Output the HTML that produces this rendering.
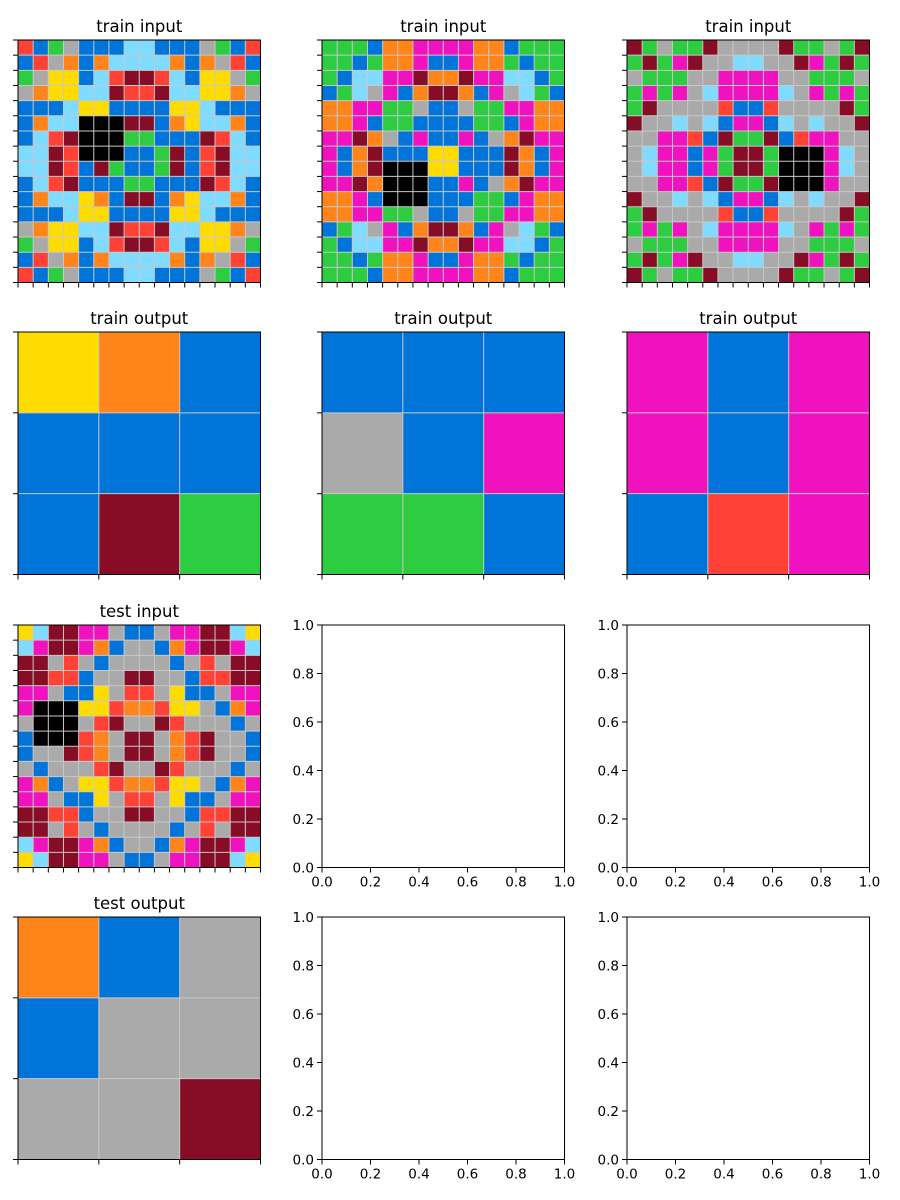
<!DOCTYPE html>
<html><head><meta charset="utf-8"><style>
html,body{margin:0;padding:0;background:#fff;}
svg{display:block;font-family:"DejaVu Sans","Liberation Sans",sans-serif;}
</style></head><body>
<svg id="fig" width="900" height="1200" xmlns="http://www.w3.org/2000/svg"></svg>
<script>
const palette=["#000000","#0074D9","#FF4136","#2ECC40","#FFDC00","#AAAAAA","#F012BE","#FF851B","#7FDBFF","#870C25"];
const train1In=[
"2135111881115312","1257178888717521","3544182992814453","5744889229884475",
"1118441111448111","1788000991748871","1829000331119281","8892000113912988",
"8892193113912988","1829111331119281","1788471991748871","1118441111448111",
"5744889229884475","3544182992814453","1257178888717521","2135111881115312"];
const train2In=[
"3331776666771333","3313776116773133","3188669779668813","1385617997165831",
"7766335115336677","7761331111331677","6697516116157966","6179111441119716",
"6179000441119716","6697000116157966","7761000111331677","7766335115336677",
"1385617997165831","3188669779668813","3313776116773133","3331776666771333"];
const train3In=[
"9353395555933539","3936955885596393","5333556666553335","3636586666856363",
"3955552112555593","9558581661858559","5566219339126655","5866163993000685",
"5866163993000685","5566219339000655","9558581661858559","3955552112555593",
"3636586666856363","5333556666553335","3936955885596393","9353395555933539"];
const testIn=[
"4899665115669984","8699671551769968","9952515555152599","9922155995512299",
"6651145225411566","6000442772445176","5000529559255515","1000275995729551",
"1559275995729551","5155529559255515","6715442772445176","6651145225411566",
"9922155995512299","9952515555152599","8699671551769968","4899665115669984"];
const train1Out=["471","111","193"];
const train2Out=["111","516","331"];
const train3Out=["616","616","126"];
const testOut=["715","155","559"];
const emptyTicks=["0.0","0.2","0.4","0.6","0.8","1.0"];

const NS="http://www.w3.org/2000/svg";
const svg=document.getElementById('fig');
function mk(tag,attrs,parent){const e=document.createElementNS(NS,tag);for(const k in attrs)e.setAttribute(k,attrs[k]);(parent||svg).appendChild(e);return e;}
const colX=[18,322,627], rowY=[40,332,625,917], S=242.5;

function gridPanel(rows,x0,y0,title,name){
  const g=mk('g',{});
  
  
  const n=rows.length, c=S/n;
  rows.forEach((r,i)=>{[...r].forEach((v,j)=>{
    const rc=mk('rect',{x:x0+j*c,y:y0+i*c,width:c+0.3,height:c+0.3,fill:palette[+v]},g);
    
    
  });});
  for(let k=1;k<n;k++){
    mk('line',{x1:x0+k*c,y1:y0,x2:x0+k*c,y2:y0+S,stroke:"#c8c8c8","stroke-width":1},g);
    mk('line',{x1:x0,y1:y0+k*c,x2:x0+S,y2:y0+k*c,stroke:"#c8c8c8","stroke-width":1},g);
  }
  for(let k=0;k<=n;k++){
    mk('line',{x1:x0+k*c,y1:y0+S,x2:x0+k*c,y2:y0+S+5,stroke:"#000","stroke-width":1},g);
    mk('line',{x1:x0-5,y1:y0+k*c,x2:x0,y2:y0+k*c,stroke:"#000","stroke-width":1},g);
  }
  mk('rect',{x:x0,y:y0,width:S,height:S,fill:"none",stroke:"#000","stroke-width":1},g);
  const t=mk('text',{x:x0+S/2,y:y0-8,"text-anchor":"middle","font-size":16.5,fill:"#000"},g);
  t.textContent=title;
  
  
}
function emptyPanel(x0,y0,name){
  const g=mk('g',{});
  
  
  mk('rect',{x:x0,y:y0,width:S,height:S,fill:"#fff",stroke:"#000","stroke-width":1},g);
  emptyTicks.forEach((lab,k)=>{
    const px=x0+k*S/5, py=y0+S-k*S/5;
    mk('line',{x1:px,y1:y0+S,x2:px,y2:y0+S+5,stroke:"#000"},g);
    mk('line',{x1:x0-5,y1:py,x2:x0,y2:py,stroke:"#000"},g);
    const tx=mk('text',{x:px,y:y0+S+19,"text-anchor":"middle","font-size":13.5},g);tx.textContent=lab;
    
    
    const ty=mk('text',{x:x0-8,y:py+5,"text-anchor":"end","font-size":13.5},g);ty.textContent=lab;
    
    
  });
}
gridPanel(train1In,colX[0],rowY[0],"train input","train-input-1");
gridPanel(train2In,colX[1],rowY[0],"train input","train-input-2");
gridPanel(train3In,colX[2],rowY[0],"train input","train-input-3");
gridPanel(train1Out,colX[0],rowY[1],"train output","train-output-1");
gridPanel(train2Out,colX[1],rowY[1],"train output","train-output-2");
gridPanel(train3Out,colX[2],rowY[1],"train output","train-output-3");
gridPanel(testIn,colX[0],rowY[2],"test input","test-input");
emptyPanel(colX[1],rowY[2],"empty-axes-1");
emptyPanel(colX[2],rowY[2],"empty-axes-2");
gridPanel(testOut,colX[0],rowY[3],"test output","test-output");
emptyPanel(colX[1],rowY[3],"empty-axes-3");
emptyPanel(colX[2],rowY[3],"empty-axes-4");
</script>
</body></html>
